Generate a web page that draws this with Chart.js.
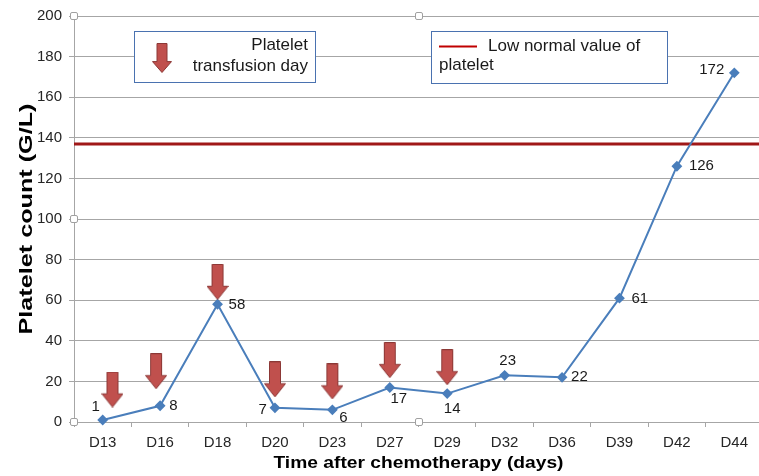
<!DOCTYPE html>
<html>
<head>
<meta charset="utf-8">
<script src="https://cdn.jsdelivr.net/npm/chart.js@4"></script>
<style>
  html, body { margin: 0; padding: 0; background: #fff; overflow: hidden; }
  #wrap { width: 764px; height: 476px; }
</style>
</head>
<body>
<div id="wrap"><canvas id="myChart" width="764" height="476"></canvas></div>
<script>
const days = ['D13', 'D16', 'D18', 'D20', 'D23', 'D27', 'D29', 'D32', 'D36', 'D39', 'D42', 'D44'];
const platelets = [1, 8, 58, 7, 6, 17, 14, 23, 22, 61, 126, 172];
// transfusion arrows: position along the day axis (category index) and level on the y axis
const arrowPos = [0.17, 0.93, 2, 3, 4, 5, 6];
const arrowLevel = [16, 25, 69, 21, 20, 30.5, 27];
const lowNormal = 137;
const yTicks = [0, 20, 40, 60, 80, 100, 120, 140, 160, 180, 200];

const FONT = "'Liberation Sans', Arial, sans-serif";
const GRID = '#a6a6a6';

function makeArrow(w, h) {
  const c = document.createElement('canvas');
  c.width = w; c.height = h;
  const g = c.getContext('2d');
  const shaft = w * 0.5;
  const head = h * 0.38;
  g.beginPath();
  g.moveTo((w - shaft) / 2, 0.5);
  g.lineTo((w + shaft) / 2, 0.5);
  g.lineTo((w + shaft) / 2, h - head);
  g.lineTo(w - 0.5, h - head);
  g.lineTo(w / 2, h - 0.5);
  g.lineTo(0.5, h - head);
  g.lineTo((w - shaft) / 2, h - head);
  g.closePath();
  g.fillStyle = '#c0504d';
  g.fill();
  g.strokeStyle = '#8c3836';
  g.lineWidth = 1;
  g.stroke();
  return c;
}
const arrowImg = makeArrow(22, 36);
const legendArrow = makeArrow(20, 30);

// label placement next to each point: [dx, dy, align]
const labelPlace = [
  [-7, -13, 'center'], [9, 0, 'left'], [11, 1, 'left'], [-8, 2, 'right'],
  [11, 8, 'center'], [9, 11, 'center'], [5, 15, 'center'], [3, -14, 'center'],
  [9, 0, 'left'], [12, 1, 'left'], [12, 0, 'left'], [-10, -3, 'right']
];

const valueLabels = {
  id: 'valueLabels',
  afterDatasetsDraw(chart) {
    const meta = chart.getDatasetMeta(1);
    const ctx = chart.ctx;
    ctx.save();
    ctx.font = '15px ' + FONT;
    ctx.fillStyle = '#1a1a1a';
    ctx.textBaseline = 'middle';
    meta.data.forEach((pt, i) => {
      const p = labelPlace[i];
      ctx.textAlign = p[2];
      ctx.fillText(String(platelets[i]), pt.x + p[0], pt.y + p[1]);
    });
    ctx.restore();
  }
};

// axis titles, drawn stretched along the text like the source figure
const axisTitles = {
  id: 'axisTitles',
  afterDraw(chart) {
    const ctx = chart.ctx;
    const a = chart.chartArea;
    ctx.save();
    ctx.fillStyle = '#000';
    ctx.font = 'bold 17px ' + FONT;
    ctx.textAlign = 'center';
    ctx.textBaseline = 'middle';
    ctx.save();
    ctx.translate((a.left + a.right) / 2, 463);
    ctx.scale(1.13, 1);
    ctx.fillText('Time after chemotherapy (days)', 0, 0);
    ctx.restore();
    ctx.save();
    ctx.font = 'bold 18px ' + FONT;
    ctx.translate(27, (a.top + a.bottom) / 2);
    ctx.rotate(-Math.PI / 2);
    ctx.scale(1.4, 1);
    ctx.fillText('Platelet count (G/L)', 0, 0);
    ctx.restore();
    ctx.restore();
  }
};

const boxesAndHandles = {
  id: 'boxesAndHandles',
  afterDraw(chart) {
    const ctx = chart.ctx;
    ctx.save();
    // legend box 1
    ctx.fillStyle = '#fff';
    ctx.strokeStyle = '#4a72b0';
    ctx.lineWidth = 1;
    ctx.fillRect(134.5, 31.5, 181, 51);
    ctx.strokeRect(134.5, 31.5, 181, 51);
    ctx.drawImage(legendArrow, 152, 43);
    ctx.fillStyle = '#1a1a1a';
    ctx.font = '17px ' + FONT;
    ctx.textAlign = 'right';
    ctx.textBaseline = 'alphabetic';
    ctx.fillText('Platelet', 308, 50);
    ctx.fillText('transfusion day', 308, 71);
    // legend box 2
    ctx.fillStyle = '#fff';
    ctx.fillRect(431.5, 31.5, 236, 52);
    ctx.strokeRect(431.5, 31.5, 236, 52);
    ctx.strokeStyle = '#c00000';
    ctx.lineWidth = 2;
    ctx.beginPath();
    ctx.moveTo(439, 46.5);
    ctx.lineTo(477, 46.5);
    ctx.stroke();
    ctx.fillStyle = '#1a1a1a';
    ctx.textAlign = 'left';
    ctx.fillText('Low normal value of', 488, 51);
    ctx.fillText('platelet', 439, 70);
    // plot area handles
    const a = chart.chartArea;
    const midX = (a.left + a.right) / 2, midY = (a.top + a.bottom) / 2;
    [[a.left, a.top], [midX, a.top], [a.left, midY], [a.left, a.bottom], [midX, a.bottom]].forEach(([x, y]) => {
      ctx.fillStyle = '#fff';
      ctx.strokeStyle = '#a0a0a0';
      ctx.lineWidth = 1;
      ctx.beginPath();
      ctx.roundRect(Math.round(x) - 3.5, Math.round(y) - 3.5, 7, 7, 1.5);
      ctx.fill();
      ctx.stroke();
    });
    ctx.restore();
  }
};

const ctx = document.getElementById('myChart');
new Chart(ctx, {
  type: 'line',
  data: {
    labels: days,
    datasets: [{
      label: 'Platelet transfusion day',
      data: arrowPos.map((x, i) => ({ x: x, y: arrowLevel[i] })),
      xAxisID: 'xa',
      showLine: false,
      pointStyle: arrowImg,
      pointRadius: 10,
      clip: false
    }, {
      label: 'Platelet count',
      data: platelets,
      borderColor: '#4a7ebb',
      backgroundColor: '#4a7ebb',
      borderWidth: 2,
      pointStyle: 'rectRot',
      pointRadius: 4,
      tension: 0,
      fill: false,
      clip: false
    }, {
      label: 'Low normal value of platelet',
      data: [{ x: -0.5, y: lowNormal }, { x: days.length - 0.5, y: lowNormal }],
      xAxisID: 'xa',
      borderColor: '#a01818',
      borderWidth: 3,
      pointRadius: 0,
      fill: false
    }]
  },
  options: {
    responsive: false,
    animation: false,
    events: [],
    layout: { autoPadding: false, padding: { top: 16, right: 1, left: 0, bottom: 0 } },
    plugins: { legend: { display: false }, tooltip: { enabled: false } },
    scales: {
      x: {
        type: 'category',
        offset: true,
        afterFit: s => { s.height = 54; s.paddingLeft = 0; s.paddingRight = 0; },
        grid: { drawOnChartArea: false, offset: true, tickLength: 5, color: GRID },
        border: { color: GRID },
        ticks: { font: { size: 15, family: FONT }, color: '#262626', padding: 7, maxRotation: 0 },
        title: { display: false }
      },
      xa: { type: 'linear', display: false, min: -0.5, max: days.length - 0.5 },
      y: {
        min: 0, max: 200,
        afterFit: s => { s.width = 74; },
        afterBuildTicks: s => { s.ticks = yTicks.map(v => ({ value: v })); },
        grid: { color: GRID, tickLength: 5 },
        border: { color: GRID },
        ticks: { font: { size: 15, family: FONT }, color: '#262626', padding: 7 },
        title: { display: false }
      }
    }
  },
  plugins: [valueLabels, axisTitles, boxesAndHandles]
});
</script>
</body>
</html>
